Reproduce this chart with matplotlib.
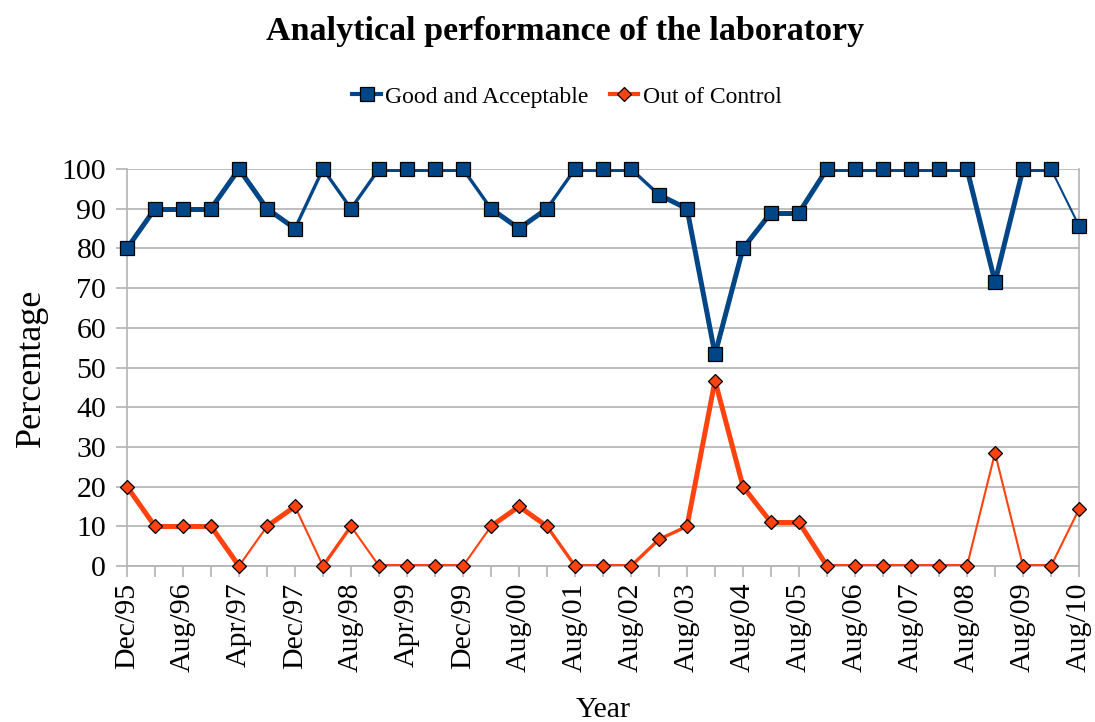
import numpy as np
import matplotlib
matplotlib.use("Agg")
import matplotlib.pyplot as plt
from matplotlib.lines import Line2D

plt.rcParams['font.family'] = ['Liberation Serif', 'DejaVu Serif']

# data (35 sampling rounds)
good = [80, 90, 90, 90, 100, 90, 85, 100, 90, 100, 100, 100, 100, 90, 85, 90,
        100, 100, 100, 93.5, 90, 53.3, 80, 89, 89, 100, 100, 100, 100, 100, 100,
        71.5, 100, 100, 85.7]
out_ctrl = [20, 10, 10, 10, 0, 10, 15, 0, 10, 0, 0, 0, 0, 10, 15, 10,
            0, 0, 0, 6.7, 10, 46.7, 20, 11, 11, 0, 0, 0, 0, 0, 0,
            28.5, 0, 0, 14.3]
shown_labels = ['Dec/95', 'Aug/96', 'Apr/97', 'Dec/97', 'Aug/98', 'Apr/99',
                'Dec/99', 'Aug/00', 'Aug/01', 'Aug/02', 'Aug/03', 'Aug/04',
                'Aug/05', 'Aug/06', 'Aug/07', 'Aug/08', 'Aug/09', 'Aug/10']

# segment widths (the original rendering has uneven line thickness)
T, M, S = 3.6, 2.4, 1.5
good_lw = [T, T, T, T, T, T, M, M, M, T, T, T, M, T, T, M, T, T, M, T, T, T,
           T, T, T, T, T, T, T, T, T, T, T, S]
out_lw = [T, T, T, T, S, T, S, M, S, T, T, T, S, T, T, M, T, T, M, M, T, T,
          T, T, T, T, T, T, T, T, S, S, T, S]

blue = '#004586'
orange = '#ff420e'

x = np.arange(len(good))

fig = plt.figure(figsize=(10.95, 7.22), dpi=100)
ax = fig.add_axes([127/1095, 1-566/722, (1079-127)/1095, (566-169)/722])

for i in range(len(x) - 1):
    ax.plot(x[i:i+2], good[i:i+2], color=blue, lw=good_lw[i],
            solid_capstyle='round', zorder=3)
    ax.plot(x[i:i+2], out_ctrl[i:i+2], color=orange, lw=out_lw[i],
            solid_capstyle='round', zorder=3)
ax.plot(x, good, ls='none', marker='s', ms=10, mfc=blue, mec='black',
        mew=0.9, zorder=4, clip_on=False)
ax.plot(x, out_ctrl, ls='none', marker='D', ms=7.5, mfc=orange, mec='black',
        mew=0.9, zorder=4, clip_on=False)

ax.set_xlim(0, len(x) - 1)
ax.set_ylim(0, 100)
ax.set_yticks(range(0, 101, 10))
ax.set_xticks(x)
labels = [''] * len(x)
for k, lab in enumerate(shown_labels):
    labels[2 * k] = lab
ax.set_xticklabels(labels, rotation=90, fontsize=21.5)
ax.tick_params(axis='y', labelsize=21.5, length=8, color='#b3b3b3', width=1.2, pad=7)
ax.tick_params(axis='x', length=8, color='#b3b3b3', width=1.2, pad=4)
ax.grid(axis='y', color='#b3b3b3', lw=1.2, zorder=0)
ax.set_axisbelow(True)
ax.spines['top'].set_visible(False)
for s in ['left', 'right', 'bottom']:
    ax.spines[s].set_color('#b3b3b3')
    ax.spines[s].set_linewidth(1.2)

ax.set_ylabel('Percentage', fontsize=26, labelpad=10)
ax.set_xlabel('Year', fontsize=21.5, labelpad=18)

fig.text(0.516, 0.956, 'Analytical performance of the laboratory',
         ha='center', va='center', fontsize=24.5, fontweight='bold')

handles = [Line2D([], [], color=blue, lw=3, marker='s', ms=10, mfc=blue, mec='black', mew=0.9),
           Line2D([], [], color=orange, lw=3, marker='D', ms=7.5, mfc=orange, mec='black', mew=0.9)]
fig.legend(handles, ['Good and Acceptable', 'Out of Control'],
           loc='center', bbox_to_anchor=(0.518, 0.866), ncol=2, frameon=False,
           fontsize=17, handlelength=1.2, handletextpad=0.2, columnspacing=0.9)

fig.savefig('out.png', dpi=100)
